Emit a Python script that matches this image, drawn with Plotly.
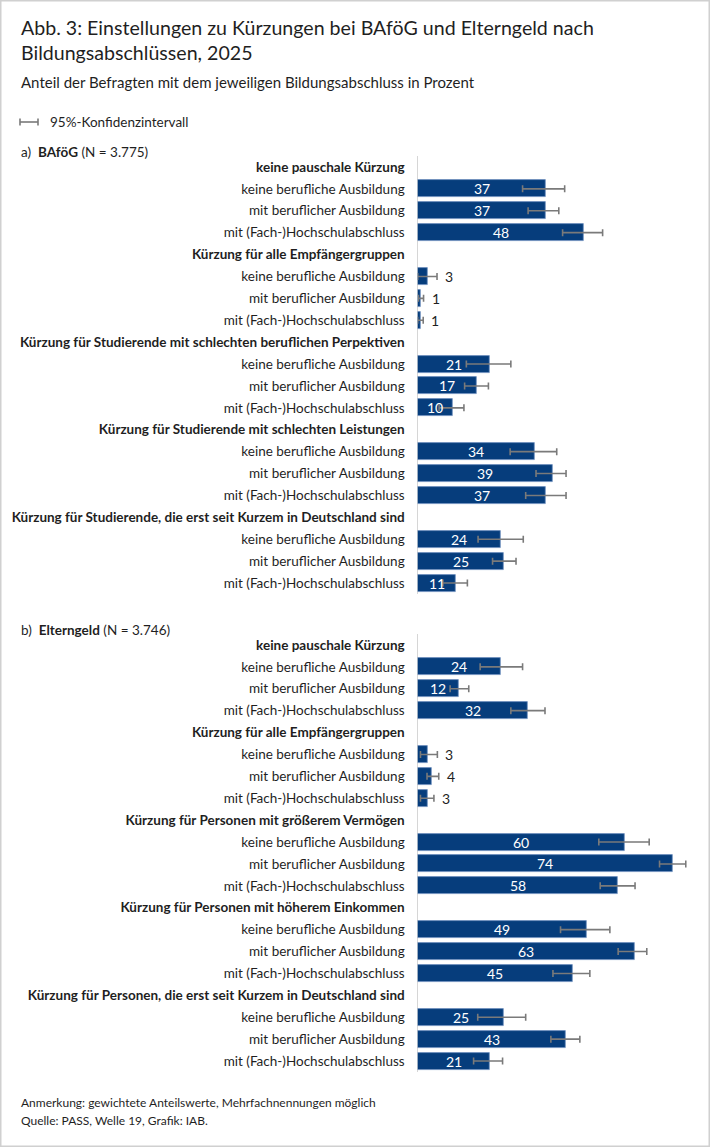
import plotly.graph_objects as go

W, H = 710, 1147

categories = ["keine berufliche Ausbildung", "mit beruflicher Ausbildung", "mit (Fach-)Hochschulabschluss"]

bafoeg_groups = [
    "keine pauschale Kürzung",
    "Kürzung für alle Empfängergruppen",
    "Kürzung für Studierende mit schlechten beruflichen Perpektiven",
    "Kürzung für Studierende mit schlechten Leistungen",
    "Kürzung für Studierende, die erst seit Kurzem in Deutschland sind",
]
bafoeg_values = [37, 37, 48, 3, 1, 1, 21, 17, 10, 34, 39, 37, 24, 25, 11]
bafoeg_ci_low = [30.4, 32.0, 42.0, 0.0, 0.2, 0.0, 14.1, 13.6, 6.2, 26.8, 34.3, 31.3, 17.5, 21.7, 7.3]
bafoeg_ci_high = [42.6, 40.9, 53.6, 5.6, 1.7, 1.6, 27.0, 20.5, 13.4, 40.3, 43.0, 43.0, 30.6, 28.5, 14.4]

elterngeld_groups = [
    "keine pauschale Kürzung",
    "Kürzung für alle Empfängergruppen",
    "Kürzung für Personen mit größerem Vermögen",
    "Kürzung für Personen mit höherem Einkommen",
    "Kürzung für Personen, die erst seit Kurzem in Deutschland sind",
]
elterngeld_values = [24, 12, 32, 3, 4, 3, 60, 74, 58, 49, 63, 45, 25, 43, 21]
elterngeld_ci_low = [18.1, 9.4, 27.0, 0.8, 2.7, 0.8, 52.5, 70.1, 52.9, 41.4, 58.1, 39.2, 17.4, 38.6, 16.2]
elterngeld_ci_high = [30.4, 14.8, 36.9, 5.7, 6.1, 4.7, 67.1, 77.7, 63.0, 55.7, 66.4, 49.9, 31.3, 47.0, 24.6]

FONT = "Source Sans Pro, Lato, Roboto, sans-serif"
BAR = "#063d7c"
ERR = "#7a7a7a"
TXT = "#1f1f1f"


def px(x):
    return x / W


def py(y):
    return 1 - y / H


fig = go.Figure()

panels = [
    (bafoeg_groups, bafoeg_values, bafoeg_ci_low, bafoeg_ci_high, "x", "y", 156, 594),
    (elterngeld_groups, elterngeld_values, elterngeld_ci_low, elterngeld_ci_high, "x2", "y2", 634, 1072),
]

x_left = 417.7
scale = 3.45
x_max = 82
annotations = []

for k, (groups, vals, lo, hi, xa, ya, top, bot) in enumerate(panels):
    rows_y, rows_text = [], []
    bar_y = []
    for g, name in enumerate(groups):
        rows_y.append(4 * g)
        rows_text.append(f"<b>{name}</b>")
        for c, cat in enumerate(categories):
            rows_y.append(4 * g + 1 + c)
            rows_text.append(cat)
            bar_y.append(4 * g + 1 + c)
    fig.add_trace(go.Bar(
        x=vals, y=bar_y, orientation="h", xaxis=xa, yaxis=ya,
        width=0.78,
        marker=dict(color=BAR, line=dict(color="#6f8fbf", width=0.8)),
        error_x=dict(type="data", symmetric=False,
                     array=[h - v for h, v in zip(hi, vals)],
                     arrayminus=[v - l for v, l in zip(vals, lo)],
                     color=ERR, thickness=1.6, width=3.5),
        showlegend=False, hoverinfo="skip",
    ))
    for v, h, yy in zip(vals, hi, bar_y):
        if v < 5:
            annotations.append(dict(x=h, y=yy, xref=xa, yref=ya, text=str(v),
                                    xanchor="left", yanchor="middle", xshift=6, showarrow=False,
                                    font=dict(family=FONT, size=14, color=TXT)))
        else:
            annotations.append(dict(x=v / 2, y=yy, xref=xa, yref=ya, text=str(v),
                                    xanchor="center", yanchor="middle", showarrow=False,
                                    font=dict(family=FONT, size=14, color="white")))
    xkey = "xaxis" if k == 0 else "xaxis2"
    ykey = "yaxis" if k == 0 else "yaxis2"
    fig.update_layout(**{
        xkey: dict(domain=[px(x_left), px(x_left + x_max * scale)], range=[0, x_max],
                   showgrid=False, showticklabels=False, ticks="", zeroline=True,
                   zerolinecolor="#d6d6d6", zerolinewidth=1, anchor=ya,
                   fixedrange=True),
        ykey: dict(domain=[py(bot), py(top)], range=[19.5, -0.5], tickmode="array",
                   tickvals=rows_y, ticktext=rows_text, showgrid=False, zeroline=False,
                   ticks="", ticklabelstandoff=12, anchor=xa, fixedrange=True,
                   tickfont=dict(family=FONT, size=13.5, color=TXT)),
    })

# Titles and texts
annotations += [
    dict(x=px(19), y=py(27), text="Abb. 3: Einstellungen zu Kürzungen bei BAföG und Elterngeld nach",
         font=dict(family=FONT, size=19.6, color=TXT)),
    dict(x=px(19), y=py(52), text="Bildungsabschlüssen, 2025",
         font=dict(family=FONT, size=19.6, color=TXT)),
    dict(x=px(19), y=py(82), text="Anteil der Befragten mit dem jeweiligen Bildungsabschluss in Prozent",
         font=dict(family=FONT, size=15, color=TXT)),
    dict(x=px(48), y=py(122), text="95%-Konfidenzintervall",
         font=dict(family=FONT, size=13.5, color=TXT)),
    dict(x=px(19), y=py(152), text="a)  <b>BAföG</b> (N = 3.775)",
         font=dict(family=FONT, size=13.5, color=TXT)),
    dict(x=px(19), y=py(630), text="b)  <b>Elterngeld</b> (N = 3.746)",
         font=dict(family=FONT, size=13.5, color=TXT)),
    dict(x=px(19), y=py(1102), text="Anmerkung: gewichtete Anteilswerte, Mehrfachnennungen möglich",
         font=dict(family=FONT, size=12, color=TXT)),
    dict(x=px(19), y=py(1120), text="Quelle: PASS, Welle 19, Grafik: IAB.",
         font=dict(family=FONT, size=12, color=TXT)),
]
for a in annotations[-8:]:
    a.update(xref="paper", yref="paper", xanchor="left", yanchor="middle", showarrow=False)

shapes = [
    # outer frame
    dict(type="rect", xref="paper", yref="paper", x0=px(0.75), x1=px(709.25), y0=py(1146.25), y1=py(0.75),
         line=dict(color="#d0d0d0", width=1.5)),
    # legend icon
    dict(type="line", xref="paper", yref="paper", x0=px(20), x1=px(38), y0=py(122), y1=py(122),
         line=dict(color=ERR, width=1.6)),
    dict(type="line", xref="paper", yref="paper", x0=px(20), x1=px(20), y0=py(118.5), y1=py(125.5),
         line=dict(color=ERR, width=1.6)),
    dict(type="line", xref="paper", yref="paper", x0=px(38), x1=px(38), y0=py(118.5), y1=py(125.5),
         line=dict(color=ERR, width=1.6)),
]

fig.update_layout(
    width=W, height=H, margin=dict(l=0, r=0, t=0, b=0),
    paper_bgcolor="white", plot_bgcolor="white",
    bargap=0, annotations=annotations, shapes=shapes,
    font=dict(family=FONT, color=TXT),
)

fig.write_html("out.html", config={"displayModeBar": False},
               post_script="document.body.style.margin='0';document.body.style.overflow='hidden';")
